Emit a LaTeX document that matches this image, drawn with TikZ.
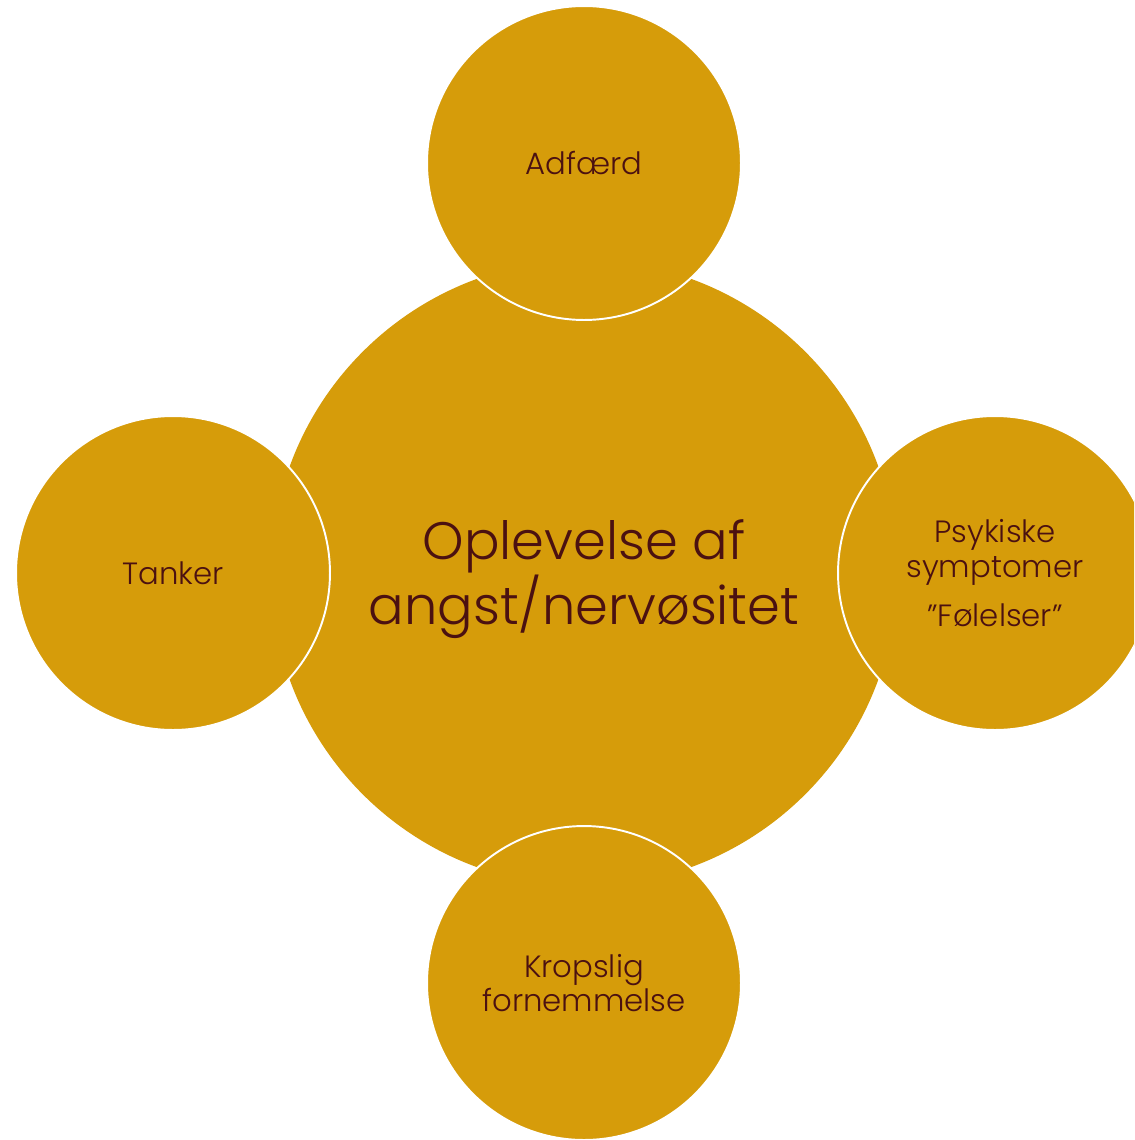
\documentclass[tikz,border=0pt]{standalone}
\usepackage{fontspec}
\setmainfont{Poppins Light}
\definecolor{mustard}{HTML}{D69C0A}
\definecolor{maroon}{HTML}{4B1111}

\begin{document}
\begin{tikzpicture}[x=0.02cm,y=-0.02cm,
  bubble/.style={circle,fill=mustard,draw=white,line width=1.1pt,
    minimum size=6.28cm,inner sep=0pt,align=center,text=maroon,
    font=\fontsize{17.5}{19.8}\selectfont}]

\useasboundingbox (0,0) rectangle (1134,1140);
\clip (0,0) rectangle (1134,1140);

% Big middle circle.
\node [circle,fill=mustard,minimum size=12.52cm,inner sep=0pt,
  label={[align=center,text=maroon,font=\fontsize{30}{29.5}\selectfont,
  yshift=-0.12cm]center:Oplevelse af\\angst/nervøsitet}] (center) at (584,573) {};

% The four small circles round it.
\node [bubble] (adfaerd) at (584,163) {Adfærd};
\node [bubble] (tanker) at (173,573) {Tanker};
\node [bubble] (psykiske) at (995,573) {Psykiske\\symptomer\\[8pt]”Følelser”};
\node [bubble] (kropslig) at (584,983) {Kropslig\\fornemmelse};
\end{tikzpicture}
\end{document}
